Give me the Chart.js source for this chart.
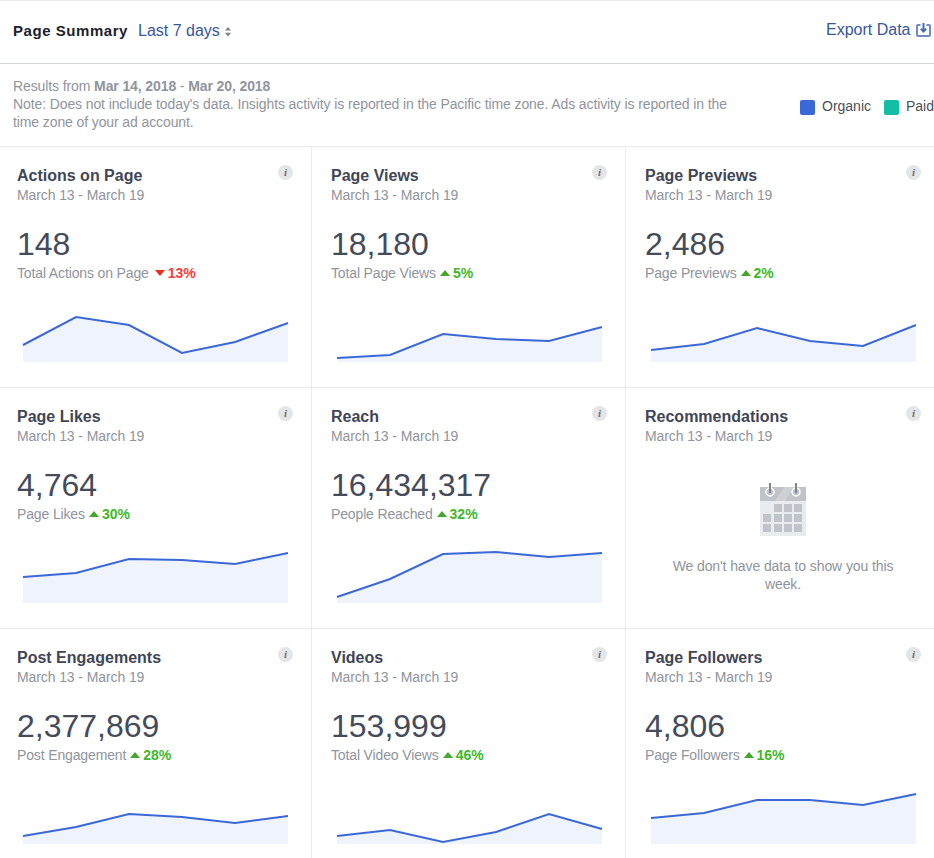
<!DOCTYPE html>
<html>
<head>
<meta charset="utf-8">
<title>Page Summary</title>
<script src="https://cdn.jsdelivr.net/npm/chart.js@4"></script>
<style>
  html, body { margin: 0; padding: 0; background: #fff; }
  body { position: relative; width: 934px; height: 858px; overflow: hidden; font-family: "Liberation Sans", Arial, sans-serif; }
  .t { position: absolute; white-space: nowrap; line-height: 18px; }
  .rule { position: absolute; background: #e9ebee; }
  .card { position: absolute; width: 314px; height: 241px; }
  .card .t { left: 17px; }
  .title { top: 21px; font-size: 16px; font-weight: bold; color: #3f4655; }
  .dates { top: 40px; font-size: 14px; color: #90949c; letter-spacing: -.1px; }
  .total { top: 78px; font-size: 32px; line-height: 40px !important; color: #444b5a; }
  .sub { top: 118px; font-size: 14px; color: #90949c; letter-spacing: -.14px; }
  .sub b { margin-left: 3px; letter-spacing: 0; }
  .up b { color: #42b72a; }
  .down b { color: #fa3e3e; }
  .tri { display: inline-block; width: 0; height: 0; border-left: 5px solid transparent; border-right: 5px solid transparent; vertical-align: 2px; }
  .up .tri { margin-left: 4px; border-bottom: 6px solid #42a72a; }
  .down .tri { margin-left: 6px; border-top: 6px solid #e0301e; }
  .info { position: absolute; left: 278px; top: 19px; width: 15px; height: 15px; border-radius: 50%; background: #e4e5e7; color: #6d7077; font: italic bold 11px/15px "Liberation Serif", serif; text-align: center; }
  canvas { position: absolute; left: 18px; top: 151px; }
  .swatch { position: absolute; top: 100px; width: 15px; height: 15px; border-radius: 2px; }
  .empty { position: absolute; left: -2px; width: 314px; top: 170px; font-size: 14px; line-height: 18px; color: #90949c; text-align: center; letter-spacing: -.1px; }
  .note { font-size: 14px; color: #90949c; letter-spacing: -.107px; left: 13px; }
</style>
</head>
<body>
<div class="rule" style="left:0;top:0;width:934px;height:1px"></div>
<div class="rule" style="left:0;top:63px;width:934px;height:1px;background:#d3d6db"></div>
<div class="rule" style="left:0;top:146px;width:934px;height:1px"></div>
<div class="rule" style="left:0;top:387px;width:934px;height:1px"></div>
<div class="rule" style="left:0;top:628px;width:934px;height:1px"></div>
<div class="rule" style="left:311px;top:146px;width:1px;height:712px"></div>
<div class="rule" style="left:625px;top:146px;width:1px;height:712px"></div>

<div class="t" style="left:13px;top:22px;font-size:15px;font-weight:bold;color:#1d2129;letter-spacing:.55px">Page Summary</div>
<div class="t" style="left:138px;top:22px;font-size:16px;color:#365899">Last 7 days</div>
<svg style="position:absolute;left:224px;top:27px" width="8" height="10"><path d="M4 0L7 3.6H1zM4 9.400L7 5.800H1z" fill="#7f8389"/></svg>
<div class="t" style="left:826px;top:21px;font-size:16px;color:#365899">Export Data</div>
<svg style="position:absolute;left:916px;top:22px" width="16" height="16" fill="none" stroke="#6f8ac4" stroke-width="2"><path d="M4.500 3H2a1 1 0 0 0-1 1v9a1 1 0 0 0 1 1h11a1 1 0 0 0 1-1V4a1 1 0 0 0-1-1h-2.500"/><path d="M7.500 1v8M4.800 6.800l2.700 2.700 2.700-2.700" stroke="#4a6db5"/></svg>

<div class="t note" style="top:77px">Results from <b>Mar 14, 2018</b> - <b>Mar 20, 2018</b></div>
<div class="t note" style="top:95px">Note: Does not include today's data. Insights activity is reported in the Pacific time zone. Ads activity is reported in the</div>
<div class="t note" style="top:113px">time zone of your ad account.</div>

<div class="swatch" style="left:800px;background:#3b68d9"></div>
<div class="t" style="left:822px;top:97px;font-size:14px;color:#4b4f56">Organic</div>
<div class="swatch" style="left:884px;background:#14bda5"></div>
<div class="t" style="left:906px;top:97px;font-size:14px;color:#4b4f56">Paid</div>

<script>
// one entry per card, left to right and top to bottom
const titles = ['Actions on Page', 'Page Views', 'Page Previews', 'Page Likes', 'Reach', 'Recommendations', 'Post Engagements', 'Videos', 'Page Followers'];
const totals = ['148', '18,180', '2,486', '4,764', '16,434,317', null, '2,377,869', '153,999', '4,806'];
const subLabels = ['Total Actions on Page', 'Total Page Views', 'Page Previews', 'Page Likes', 'People Reached', null, 'Post Engagement', 'Total Video Views', 'Page Followers'];
const changes = [-13, 5, 2, 30, 32, null, 28, 46, 16];
const dateRange = 'March 13 - March 19';
const days = ['Mar 13', 'Mar 14', 'Mar 15', 'Mar 16', 'Mar 17', 'Mar 18'];

// sparkline heights, no axis is shown in the original
const actionsOnPage = [17, 45, 37, 9, 20, 39];
const pageViews = [4, 7, 28, 23, 21, 35];
const pagePreviews = [12, 18, 34, 21, 16, 37];
const pageLikes = [26, 30, 44, 43, 39, 50];
const reach = [6, 24, 49, 51, 46, 50];
const postEngagements = [8, 17, 30, 27, 21, 28];
const videos = [8, 14, 2, 12, 30, 15];
const pageFollowers = [26, 31, 44, 44, 39, 50];
const series = [actionsOnPage, pageViews, pagePreviews, pageLikes, reach, null, postEngagements, videos, pageFollowers];

const cardX = [0, 314, 628];
const cardY = [146, 387, 628];

const calendarCells = [[14,21],[24,21],[34,21],[3,31],[14,31],[24,31],[34,31],[3,41],[14,41],[24,41],[34,41]];

titles.forEach((title, i) => {
  const card = document.createElement('div');
  card.className = 'card';
  card.style.left = cardX[i % 3] + 'px';
  card.style.top = cardY[Math.floor(i / 3)] + 'px';
  let html = `<div class="t title">${title}</div><div class="t dates">${dateRange}</div><div class="info">i</div>`;
  if (series[i]) {
    const dir = changes[i] < 0 ? 'down' : 'up';
    html += `<div class="t total">${totals[i]}</div>`;
    html += `<div class="t sub ${dir}">${subLabels[i]}<span class="tri"></span><b>${Math.abs(changes[i])}%</b></div>`;
    html += '<canvas width="275" height="70"></canvas>';
  } else {
    html += `<svg style="position:absolute;left:132px;top:96px" width="46" height="53">
      <rect y="4" width="46" height="49" fill="#e9ebee"/><rect y="4" width="46" height="14" fill="#bfc3ca"/>
      <path d="M15 18L24 4H34L25 18z" fill="#cdd0d5"/>
      <g fill="#bfc3ca">${calendarCells.map(c => `<rect x="${c[0]}" y="${c[1]}" width="8" height="8"/>`).join('')}</g>
      <g fill="none" stroke="#fff" stroke-width="1.500"><circle cx="10" cy="9" r="4"/><circle cx="36" cy="9" r="4"/></g>
      <g stroke="#7f838a" stroke-width="2"><path d="M10 0v10M36 0v10"/></g></svg>`;
    html += `<div class="empty">We don't have data to show you this<br>week.</div>`;
  }
  card.innerHTML = html;
  document.body.appendChild(card);

  if (!series[i]) return;
  new Chart(card.querySelector('canvas').getContext('2d'), {
    type: 'line',
    data: {
      labels: days,
      datasets: [{
        label: title,
        data: series[i],
        borderColor: '#3b68d9',
        backgroundColor: '#eff3fc',
        borderWidth: 2,
        fill: 'origin',
        tension: 0,
        pointRadius: 0
      }]
    },
    options: {
      responsive: false,
      animation: false,
      layout: { padding: { left: 5, right: 5, top: 0, bottom: 5 } },
      plugins: { legend: { display: false }, tooltip: { enabled: false } },
      scales: {
        x: { display: false },
        y: { display: false, min: 0, max: 65 }
      }
    }
  });
});
</script>
</body>
</html>
